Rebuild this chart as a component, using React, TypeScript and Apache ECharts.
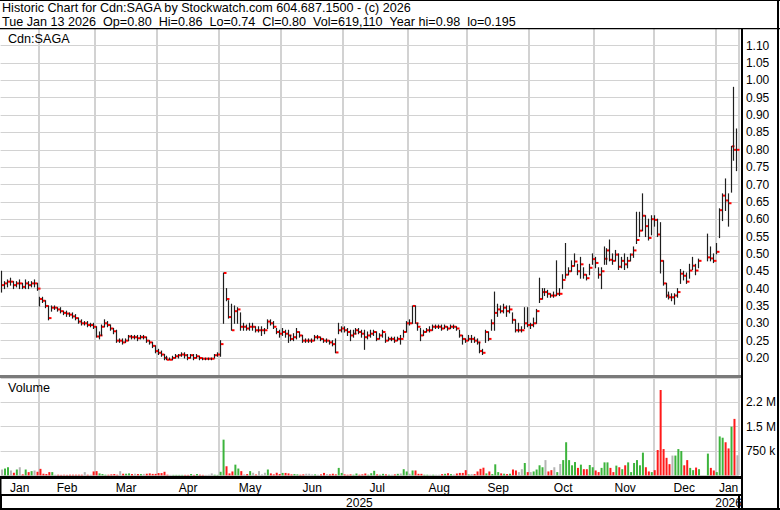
import React, { useEffect, useRef } from 'react';
import * as echarts from 'echarts';

// ---------- calendar ----------
const HOLIDAYS = ['2025-02-17', '2025-04-18', '2025-05-19', '2025-07-01', '2025-08-04', '2025-09-01', '2025-10-13', '2025-12-25', '2025-12-26', '2026-01-01'];
const MONTHS = ['Jan', 'Feb', 'Mar', 'Apr', 'May', 'Jun', 'Jul', 'Aug', 'Sep', 'Oct', 'Nov', 'Dec'];
const PRICE_TICKS = ['0.20', '0.25', '0.30', '0.35', '0.40', '0.45', '0.50', '0.55', '0.60', '0.65', '0.70', '0.75', '0.80', '0.85', '0.90', '0.95', '1.00', '1.05', '1.10'];
const VOLUME_TICKS: Record<string, string> = { '750000': '750 k', '1500000': '1.5 M', '2250000': '2.2 M' };

function tradingDays(): string[] {
  const out: string[] = [];
  const d = new Date(Date.UTC(2025, 0, 15));
  const end = Date.UTC(2026, 0, 13);
  while (d.getTime() <= end) {
    const wd = d.getUTCDay();
    const s = d.toISOString().slice(0, 10);
    if (wd !== 0 && wd !== 6 && HOLIDAYS.indexOf(s) < 0) out.push(s);
    d.setUTCDate(d.getUTCDate() + 1);
  }
  return out;
}

// ---------- data (one line per month) ----------
const close: (number | null)[] = [
  0.41, 0.415, 0.42, 0.42, 0.41, 0.415, 0.415, 0.405, 0.415, 0.41, 0.415, 0.415, 0.40,
  0.37, 0.365, 0.35, 0.315, 0.345, 0.345, 0.34, 0.335, 0.33, 0.328, 0.325, 0.32, 0.315, 0.305, 0.30, 0.30, 0.295, 0.295, 0.29,
  0.262, 0.265, 0.29, 0.30, 0.295, 0.285, 0.277, 0.25, 0.25, 0.245, 0.25, 0.262, 0.26, 0.26, 0.257, 0.26, 0.26, 0.25, 0.245, 0.235, 0.22,
  0.215, 0.21, 0.20, 0.195, 0.195, 0.20, 0.205, 0.208, 0.21, 0.208, 0.20, 0.208, 0.20, 0.205, 0.20, 0.198, 0.198, 0.198, 0.198, 0.208, 0.21,
  0.24, 0.445, 0.37, 0.318, 0.28, 0.335, 0.34, 0.29, 0.29, 0.285, 0.29, 0.29, 0.28, 0.28, 0.28, 0.28, 0.305, 0.30, 0.29, 0.275, 0.27,
  0.275, 0.27, 0.265, 0.255, 0.26, 0.275, 0.265, 0.25, 0.25, 0.25, 0.25, 0.26, 0.26, 0.255, 0.25, 0.25, 0.245, 0.24, 0.216, 0.28, 0.285,
  0.28, 0.275, 0.265, 0.27, 0.28, 0.275, 0.27, 0.26, 0.265, 0.27, 0.275, 0.255, 0.265, 0.275, 0.25, 0.255, 0.255, 0.25, 0.255, 0.255, 0.275, 0.30,
  0.30, 0.35, 0.30, 0.29, 0.265, 0.275, 0.28, 0.28, 0.29, 0.29, 0.29, 0.285, 0.29, 0.285, 0.29, 0.29, 0.285, 0.265, 0.255, 0.25,
  0.255, 0.255, 0.25, 0.245, 0.22, 0.215, 0.275, 0.255, 0.30, 0.33, 0.34, 0.335, 0.345, 0.335, 0.34, 0.31, 0.28, 0.28, 0.28, 0.30, 0.295,
  0.295, 0.30, 0.335, 0.37, 0.39, 0.39, 0.385, 0.38, 0.38, 0.385, 0.385, 0.425, 0.44, 0.45, 0.465, 0.478, 0.45, 0.47, 0.44, 0.43, 0.46, 0.485,
  0.474, 0.44, 0.45, 0.486, 0.51, 0.483, 0.48, 0.498, 0.463, 0.48, 0.47, 0.48, 0.498, 0.51, 0.54, 0.567, 0.61, 0.58, 0.546, 0.60,
  0.598, 0.556, 0.48, 0.415, 0.38, 0.375, 0.375, 0.38, 0.39, 0.443, 0.437, 0.42, 0.452, 0.466, 0.452, 0.48, null, null, 0.49, 0.487, 0.48,
  0.506, 0.626, 0.668, 0.654, 0.646, 0.81, 0.80, 0.80,
];

const high: (number | null)[] = [
  0.45, 0.42, 0.425, 0.43, 0.42, 0.42, 0.425, 0.415, 0.425, 0.42, 0.42, 0.425, 0.415,
  0.375, 0.375, 0.365, 0.35, 0.35, 0.35, 0.345, 0.345, 0.335, 0.335, 0.33, 0.33, 0.325, 0.315, 0.31, 0.305, 0.305, 0.30, 0.30,
  0.29, 0.275, 0.295, 0.31, 0.305, 0.295, 0.285, 0.28, 0.255, 0.255, 0.255, 0.265, 0.265, 0.265, 0.265, 0.265, 0.265, 0.26, 0.25, 0.245, 0.235,
  0.225, 0.22, 0.21, 0.205, 0.20, 0.205, 0.21, 0.21, 0.215, 0.215, 0.21, 0.21, 0.21, 0.21, 0.205, 0.20, 0.20, 0.20, 0.20, 0.21, 0.215,
  0.25, 0.445, 0.40, 0.365, 0.355, 0.35, 0.345, 0.33, 0.30, 0.295, 0.30, 0.30, 0.29, 0.29, 0.29, 0.285, 0.31, 0.31, 0.305, 0.285, 0.28,
  0.285, 0.28, 0.28, 0.265, 0.27, 0.285, 0.275, 0.265, 0.255, 0.255, 0.255, 0.265, 0.265, 0.26, 0.255, 0.255, 0.25, 0.25, 0.255, 0.30, 0.29,
  0.29, 0.285, 0.28, 0.28, 0.285, 0.285, 0.28, 0.28, 0.275, 0.28, 0.28, 0.275, 0.27, 0.28, 0.27, 0.26, 0.26, 0.26, 0.26, 0.265, 0.28, 0.305,
  0.31, 0.35, 0.35, 0.30, 0.285, 0.28, 0.285, 0.29, 0.295, 0.295, 0.295, 0.295, 0.295, 0.29, 0.295, 0.295, 0.29, 0.28, 0.265, 0.255,
  0.265, 0.265, 0.26, 0.255, 0.245, 0.225, 0.28, 0.275, 0.31, 0.39, 0.355, 0.35, 0.355, 0.35, 0.35, 0.33, 0.31, 0.30, 0.29, 0.345, 0.345,
  0.30, 0.315, 0.34, 0.43, 0.40, 0.40, 0.395, 0.385, 0.39, 0.48, 0.40, 0.44, 0.53, 0.46, 0.48, 0.50, 0.47, 0.49, 0.46, 0.44, 0.47, 0.50,
  0.49, 0.46, 0.46, 0.52, 0.515, 0.54, 0.50, 0.51, 0.50, 0.49, 0.50, 0.49, 0.50, 0.52, 0.62, 0.62, 0.673, 0.61, 0.60, 0.61,
  0.61, 0.60, 0.59, 0.48, 0.415, 0.39, 0.385, 0.385, 0.40, 0.455, 0.45, 0.445, 0.47, 0.49, 0.47, 0.485, null, null, 0.557, 0.52, 0.50,
  0.53, 0.63, 0.673, 0.716, 0.673, 0.81, 0.98, 0.86,
];

const low: (number | null)[] = [
  0.39, 0.40, 0.405, 0.41, 0.40, 0.405, 0.40, 0.40, 0.40, 0.40, 0.405, 0.405, 0.395,
  0.35, 0.36, 0.345, 0.31, 0.335, 0.34, 0.335, 0.33, 0.325, 0.32, 0.32, 0.315, 0.31, 0.30, 0.295, 0.295, 0.29, 0.29, 0.285,
  0.26, 0.255, 0.265, 0.29, 0.29, 0.28, 0.27, 0.245, 0.245, 0.24, 0.245, 0.25, 0.255, 0.255, 0.25, 0.255, 0.255, 0.245, 0.24, 0.23, 0.215,
  0.21, 0.205, 0.195, 0.195, 0.195, 0.195, 0.20, 0.20, 0.205, 0.20, 0.195, 0.20, 0.195, 0.20, 0.195, 0.195, 0.195, 0.195, 0.195, 0.20, 0.205,
  0.205, 0.30, 0.365, 0.315, 0.28, 0.30, 0.30, 0.28, 0.28, 0.28, 0.28, 0.28, 0.275, 0.275, 0.265, 0.27, 0.285, 0.295, 0.285, 0.27, 0.26,
  0.265, 0.26, 0.245, 0.25, 0.25, 0.255, 0.26, 0.245, 0.245, 0.245, 0.245, 0.25, 0.255, 0.25, 0.245, 0.245, 0.24, 0.235, 0.215, 0.27, 0.275,
  0.275, 0.265, 0.25, 0.26, 0.27, 0.27, 0.26, 0.225, 0.255, 0.26, 0.265, 0.25, 0.255, 0.26, 0.245, 0.25, 0.25, 0.245, 0.25, 0.24, 0.26, 0.275,
  0.295, 0.30, 0.30, 0.28, 0.25, 0.265, 0.275, 0.275, 0.28, 0.285, 0.285, 0.28, 0.285, 0.28, 0.285, 0.285, 0.28, 0.26, 0.24, 0.245,
  0.25, 0.245, 0.245, 0.24, 0.215, 0.21, 0.245, 0.25, 0.28, 0.28, 0.32, 0.33, 0.33, 0.32, 0.33, 0.30, 0.275, 0.275, 0.275, 0.285, 0.29,
  0.285, 0.29, 0.30, 0.36, 0.37, 0.38, 0.375, 0.375, 0.375, 0.38, 0.38, 0.40, 0.43, 0.44, 0.45, 0.465, 0.44, 0.43, 0.43, 0.425, 0.44, 0.47,
  0.46, 0.43, 0.40, 0.47, 0.47, 0.48, 0.47, 0.48, 0.455, 0.46, 0.455, 0.46, 0.48, 0.49, 0.53, 0.55, 0.567, 0.55, 0.54, 0.555,
  0.58, 0.55, 0.445, 0.41, 0.375, 0.37, 0.365, 0.355, 0.375, 0.415, 0.425, 0.415, 0.43, 0.455, 0.44, 0.46, null, null, 0.48, 0.48, 0.475,
  0.50, 0.547, 0.596, 0.625, 0.58, 0.678, 0.77, 0.74,
];

// volume in thousands of shares
const volumeK: number[] = [
  180, 210, 250, 150, 80, 180, 250, 30, 180, 100, 130, 150, 110,
  200, 50, 40, 100, 100, 20, 20, 15, 15, 15, 20, 20, 20, 20, 20, 100, 20, 20, 120,
  130, 60, 40, 20, 20, 30, 40, 20, 130, 50, 50, 60, 40, 50, 40, 40, 45, 50, 60, 45, 45,
  70, 70, 110, 20, 15, 15, 15, 15, 15, 15, 15, 40, 15, 40, 20, 15, 15, 20, 60, 20, 15,
  110, 1100, 280, 60, 120, 330, 210, 130, 30, 40, 130, 80, 30, 130, 30, 80, 180, 60, 30, 80, 40,
  75, 75, 60, 30, 40, 30, 20, 30, 50, 50, 30, 30, 20, 30, 75, 40, 30, 50, 30, 230, 75,
  30, 20, 30, 20, 57, 20, 30, 57, 20, 65, 140, 30, 20, 47, 30, 20, 20, 30, 47, 57, 190, 120,
  50, 150, 150, 47, 47, 20, 20, 20, 20, 20, 20, 38, 47, 65, 38, 28, 57, 75, 75, 160,
  30, 40, 40, 120, 200, 236, 60, 120, 40, 340, 100, 60, 50, 40, 50, 180, 150, 100, 190, 380, 100,
  100, 120, 180, 310, 250, 470, 120, 160, 250, 100, 350, 470, 1020, 470, 310, 410, 230, 330, 190, 190, 320, 250,
  150, 100, 230, 400, 400, 230, 100, 300, 250, 190, 310, 400, 100, 380, 470, 310, 700, 250, 120, 100,
  160, 780, 2630, 810, 540, 345, 610, 610, 810, 750, 310, 470, 230, 160, 240, 190, 0, 0, 670, 230, 150,
  100, 1200, 1160, 1020, 830, 1500, 1740, 619.11,
];

const HEADER_1 = 'Historic Chart for Cdn:SAGA by Stockwatch.com 604.687.1500 - (c) 2026';
const HEADER_2 = 'Tue Jan 13 2026\u00a0\u00a0Op=0.80\u00a0\u00a0Hi=0.86\u00a0\u00a0Lo=0.74\u00a0\u00a0Cl=0.80\u00a0\u00a0Vol=619,110\u00a0\u00a0Year hi=0.98\u00a0\u00a0lo=0.195';

const FONT = "'Liberation Sans', Arial, Helvetica, sans-serif";
const GREEN = '#3cb43c';
const RED = '#ff1a1a';
const GRAY = '#b4b4b4';
const GRID = '#d2d2d2';

function buildOption() {
  const dates = tradingDays();
  const monthStart = new Set<number>();
  const monthMid = new Set<number>();
  const yearMid = new Set<number>();
  let yearStart = -1;
  const monthGroups: number[][] = [];
  const yearGroups: number[][] = [];
  dates.forEach((d, i) => {
    const m = d.slice(0, 7);
    const y = d.slice(0, 4);
    if (i === 0 || dates[i - 1].slice(0, 7) !== m) { monthGroups.push([]); if (i > 0) monthStart.add(i); }
    monthGroups[monthGroups.length - 1].push(i);
    if (i === 0 || dates[i - 1].slice(0, 4) !== y) { yearGroups.push([]); if (i > 0) yearStart = i; }
    yearGroups[yearGroups.length - 1].push(i);
  });
  monthGroups.forEach((g) => monthMid.add(g[Math.floor(g.length / 2)]));
  yearGroups.forEach((g) => yearMid.add(g[Math.floor(g.length / 2)]));

  const ohlc: number[][] = [];
  dates.forEach((_, i) => {
    const c = close[i], h = high[i], l = low[i];
    if (c != null && h != null && l != null) ohlc.push([i, c, h, l]);
  });

  let prev: number | null = null;
  const volData = volumeK.map((v, i) => {
    const c = close[i];
    let color = GRAY;
    if (c != null && prev != null) color = c > prev ? GREEN : c < prev ? RED : GRAY;
    if (c != null) prev = c;
    return { value: v * 1000, itemStyle: { color } };
  });

  const vSplit = {
    show: true,
    interval: (i: number) => monthStart.has(i),
    lineStyle: { color: GRID, width: 2 },
  };

  const text = (x: number, y: number, t: string, size = 12.6) => ({
    type: 'text', x, y, z: 20,
    style: { text: t, fontSize: size, fontFamily: FONT, fill: '#000', textVerticalAlign: 'top', verticalAlign: 'top' },
  });
  const rect = (x: number, y: number, w: number, h: number, fill = '#000') => ({
    type: 'rect', z: 15, shape: { x, y, width: w, height: h }, style: { fill },
  });

  const GL = 0.6;
  const GR = 41.1;

  return {
    animation: false,
    backgroundColor: '#ffffff',
    textStyle: { fontFamily: FONT },
    grid: [
      { left: GL, right: GR, top: 28.35, height: 347 },
      { left: GL, right: GR, top: 378, height: 97.35 },
    ],
    xAxis: [
      {
        type: 'category', gridIndex: 0, data: dates, boundaryGap: true,
        axisLine: { show: false }, axisTick: { show: false }, axisLabel: { show: false },
        splitLine: vSplit,
      },
      {
        type: 'category', gridIndex: 1, data: dates, boundaryGap: true,
        axisLine: { show: false }, axisTick: { show: false },
        axisLabel: {
          interval: (i: number) => monthMid.has(i),
          formatter: (v: string) => MONTHS[Number(v.slice(5, 7)) - 1],
          color: '#000', fontSize: 12, fontFamily: FONT, margin: 7,
        },
        splitLine: vSplit,
      },
      {
        type: 'category', gridIndex: 1, data: dates, boundaryGap: true, position: 'bottom', offset: 19.65,
        axisLine: { show: false },
        axisTick: { show: true, interval: (i: number) => i === yearStart, length: 14, lineStyle: { color: '#000', width: 2 } },
        axisLabel: {
          interval: (i: number) => yearMid.has(i),
          formatter: (v: string) => v.slice(0, 4),
          color: '#000', fontSize: 12, fontFamily: FONT, margin: 2,
        },
        splitLine: { show: false },
      },
    ],
    yAxis: [
      {
        type: 'value', gridIndex: 0, position: 'right', min: 0.15, max: 1.15, interval: 0.05,
        axisLine: { show: false }, axisTick: { show: false },
        axisLabel: {
          formatter: (v: number) => (PRICE_TICKS.indexOf(v.toFixed(2)) >= 0 ? v.toFixed(2) : ''),
          color: '#000', fontSize: 12, fontFamily: FONT, margin: 7,
        },
        splitLine: { show: true, lineStyle: { color: GRID, width: 1 } },
      },
      {
        type: 'value', gridIndex: 1, position: 'right', min: 0, max: 3000000, interval: 750000,
        axisLine: { show: false }, axisTick: { show: false },
        axisLabel: {
          formatter: (v: number) => VOLUME_TICKS[String(Math.round(v))] || '',
          color: '#000', fontSize: 12, fontFamily: FONT, margin: 7,
        },
        splitLine: { show: true, lineStyle: { color: GRID, width: 1 } },
      },
    ],
    series: [
      {
        type: 'custom', name: 'Cdn:SAGA', xAxisIndex: 0, yAxisIndex: 0, data: ohlc,
        encode: { x: 0, y: [1, 2, 3] },
        renderItem: (_p: any, api: any) => {
          const i = api.value(0);
          const pC = api.coord([i, api.value(1)]);
          const pH = api.coord([i, api.value(2)]);
          const pL = api.coord([i, api.value(3)]);
          const x = Math.round(pH[0]) - 0.5;
          return {
            type: 'group',
            children: [
              { type: 'line', shape: { x1: x, y1: pH[1] - 0.5, x2: x, y2: pL[1] + 0.5 }, style: { stroke: '#1e1e1e', lineWidth: 1.2 } },
              { type: 'line', shape: { x1: x + 0.5, y1: pC[1], x2: x + 3, y2: pC[1] }, style: { stroke: '#ff0000', lineWidth: 2 } },
            ],
          };
        },
      },
      {
        type: 'bar', name: 'Volume', xAxisIndex: 1, yAxisIndex: 1, data: volData, barWidth: 2,
      },
    ],
    graphic: [
      text(2, 1.5, HEADER_1),
      text(2, 15.5, HEADER_2),
      text(8, 32.5, 'Cdn:SAGA'),
      text(8, 381, 'Volume'),
      rect(0, 28, 780, 1.3),
      rect(0, 375, 741, 3, '#7a7a7a'),
      rect(0, 476, 741, 3),
      rect(0, 494, 741, 2),
      rect(741, 28, 2, 482),
      rect(0, 508, 780, 2),
      rect(777, 0, 2, 510),
      rect(0, 0, 780, 1),
      rect(0, 476, 1.5, 34),
    ],
  };
}

export default function App() {
  const ref = useRef<HTMLDivElement>(null);
  useEffect(() => {
    document.body.style.margin = '0';
    const chart = echarts.init(ref.current as HTMLDivElement, undefined, { renderer: 'svg', width: 780, height: 510 });
    chart.setOption(buildOption() as any);
    return () => chart.dispose();
  }, []);
  return <div ref={ref} style={{ width: 780, height: 510 }} />;
}
